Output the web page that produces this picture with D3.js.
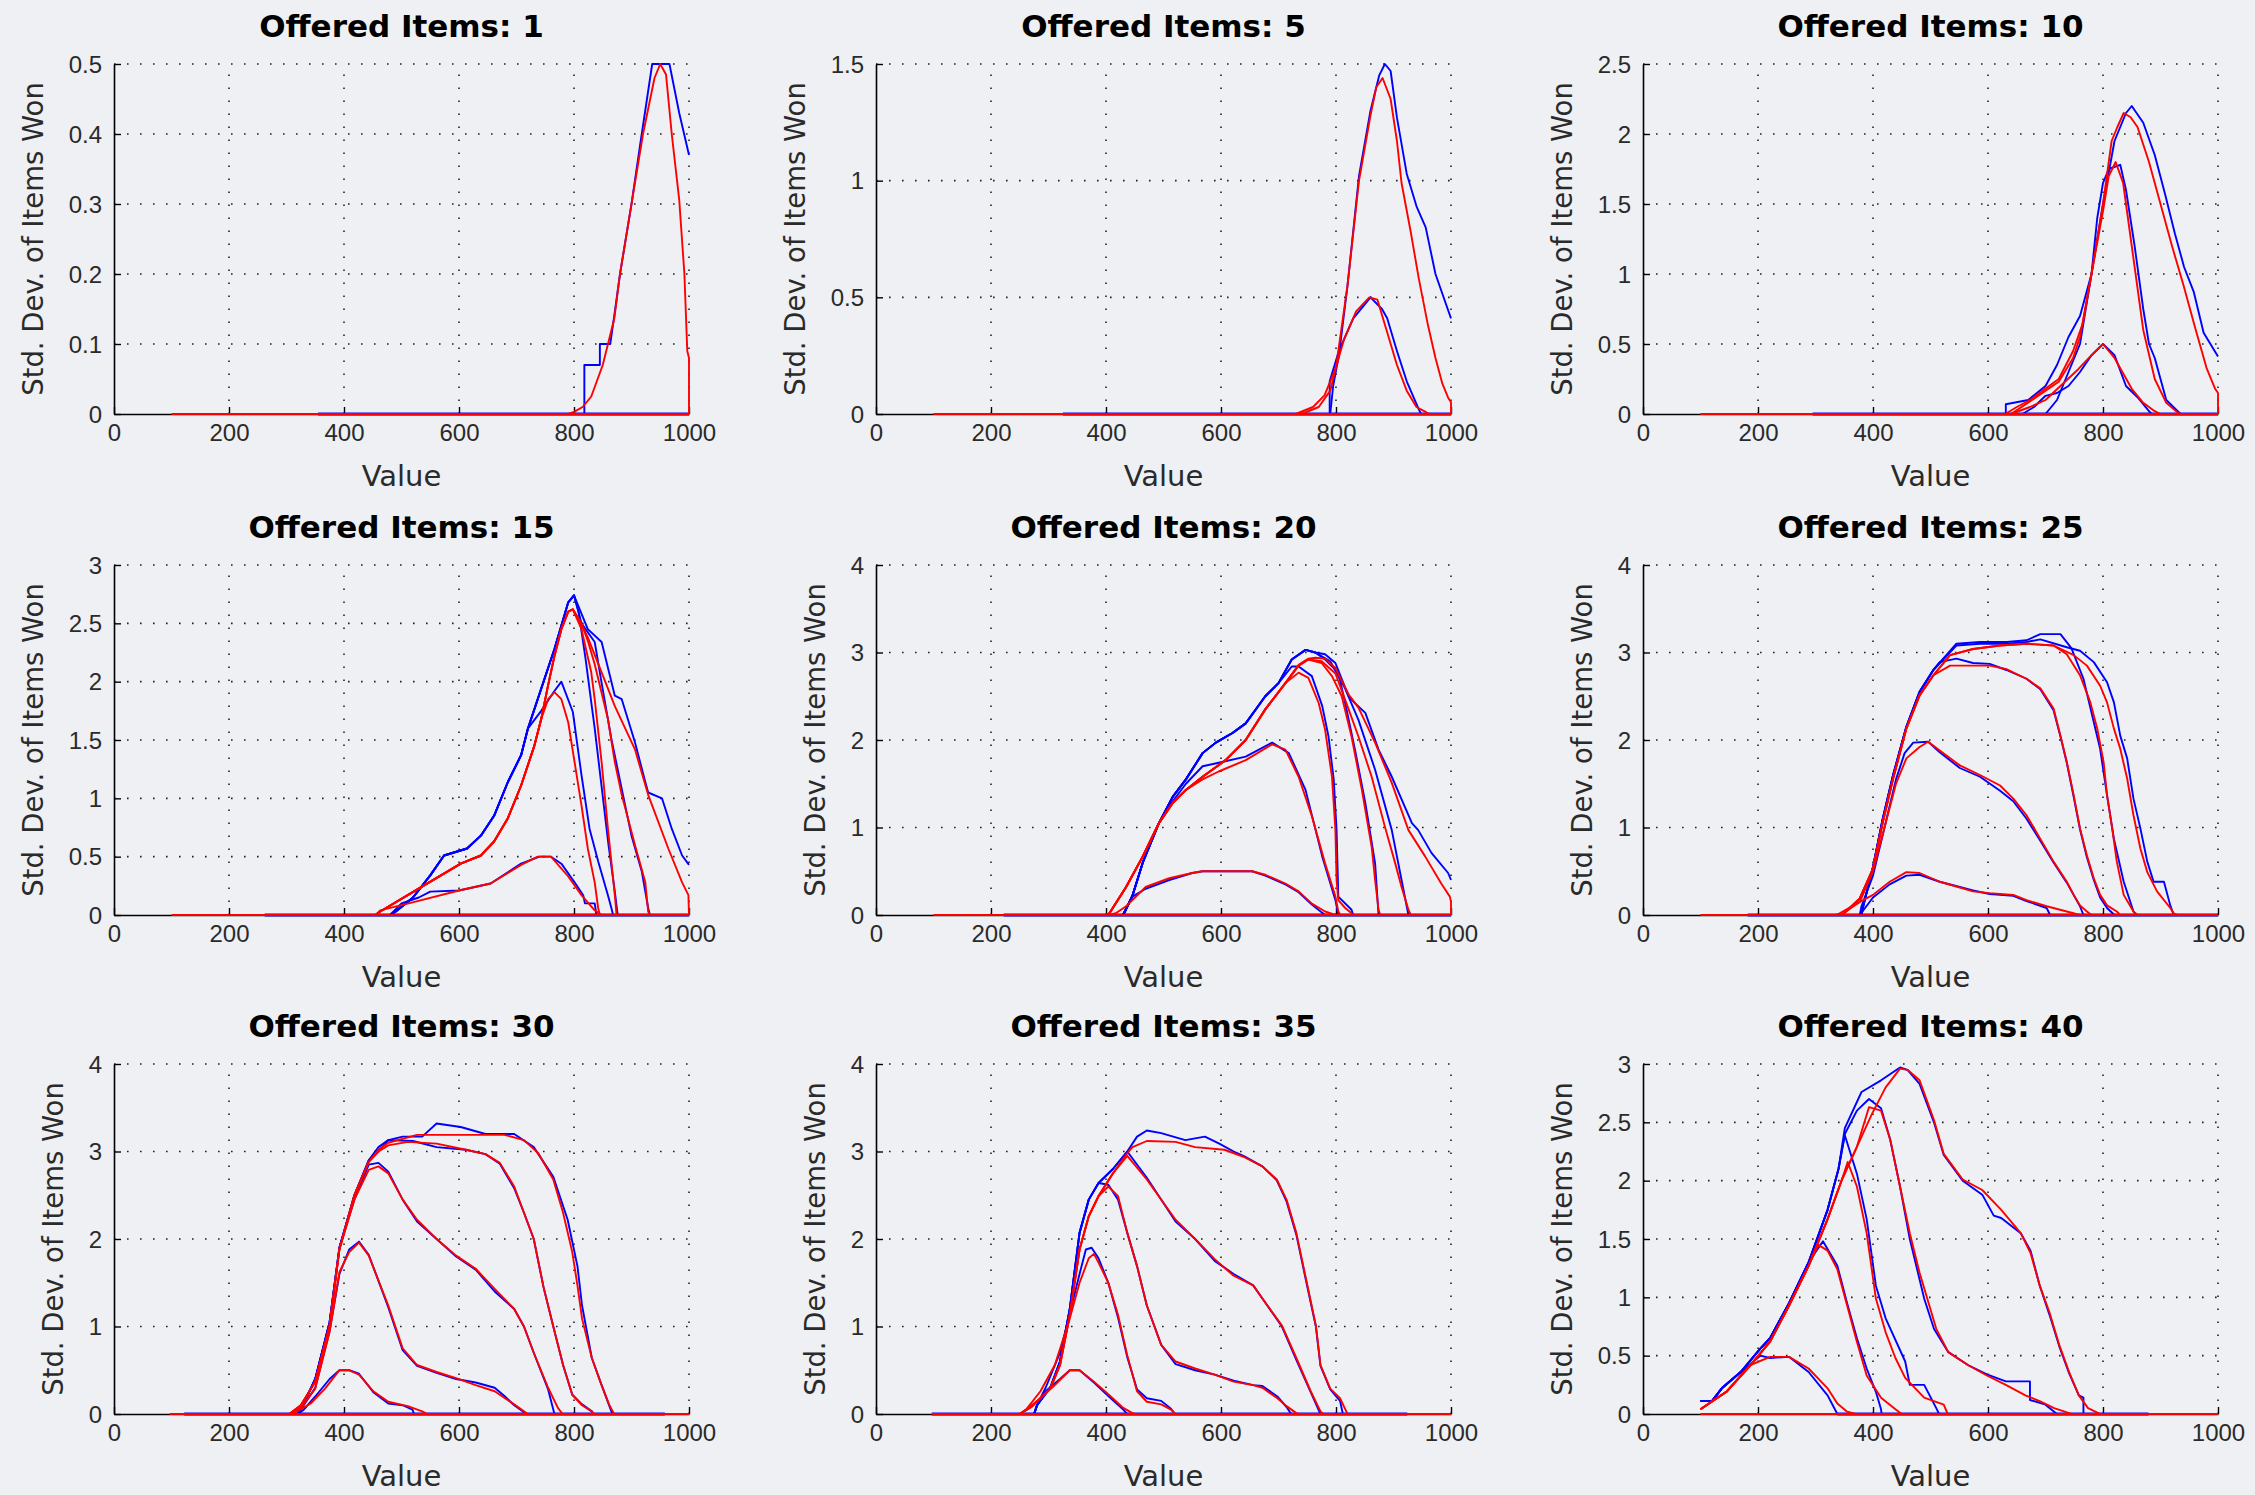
<!DOCTYPE html>
<html><head><meta charset="utf-8">
<script src="https://cdn.jsdelivr.net/npm/d3@7"></script>
<style>
html,body{margin:0;padding:0;background:#eef0f3;}
svg{display:block;}
</style></head><body>
<svg id="c" width="2255" height="1495"></svg>
<script>
// ---------------- data ----------------
const titles = ["Offered Items: 1","Offered Items: 5","Offered Items: 10","Offered Items: 15","Offered Items: 20","Offered Items: 25","Offered Items: 30","Offered Items: 35","Offered Items: 40"];
const xLabel = "Value";
const yLabel = "Std. Dev. of Items Won";
const xTicks = [0,200,400,600,800,1000];
const yMaxes = [0.5,1.5,2.5,3,4,4,4,4,3];
const yTickSets = [
  [0,0.1,0.2,0.3,0.4,0.5],
  [0,0.5,1,1.5],
  [0,0.5,1,1.5,2,2.5],
  [0,0.5,1,1.5,2,2.5,3],
  [0,1,2,3,4],
  [0,1,2,3,4],
  [0,1,2,3,4],
  [0,1,2,3,4],
  [0,0.5,1,1.5,2,2.5,3]
];
// zero-level extents of the series (red / blue)
const redRanges  = [[100,1000],[100,1000],[100,1000],[100,1000],[100,1000],[100,1000],[97,1000],[97,1000],[100,1000]];
const blueRanges = [[355,1000],[325,1000],[295,1000],[262,1000],[222,1000],[182,1000],[122,958],[97,924],[338,879]];

const red01 = [
 [[790,0],[800,0.003],[815,0.01],[830,0.025],[850,0.07],[870,0.136],[880,0.2],[900,0.3],[920,0.4],[940,0.48],[950,0.5],[960,0.485],[970,0.4],[983,0.306],[992,0.2],[997,0.09],[1000,0.08],[1000,0]]
];
const blue01 = [
 [[818,0],[818,0.07],[845,0.07],[845,0.1],[863,0.1],[870,0.14],[880,0.2],[900,0.3],[916,0.39],[936,0.5],[966,0.5],[983,0.43],[1000,0.37]]
];

const red05 = [
 [[740,0],[770,0.03],[790,0.1],[800,0.2],[814,0.32],[835,0.44],[858,0.5],[872,0.49],[889,0.35],[906,0.21],[923,0.1],[940,0.03],[955,0.01],[962,0]],
 [[730,0],[760,0.03],[780,0.08],[800,0.2],[820,0.55],[840,1.0],[860,1.28],[870,1.4],[881,1.44],[895,1.35],[906,1.17],[914,0.99],[930,0.78],[944,0.58],[960,0.38],[973,0.24],[985,0.13],[995,0.07],[1000,0.05],[1000,0]]
];
const blue05 = [
 [[789,0],[789,0.14],[805,0.27],[830,0.41],[860,0.5],[880,0.45],[889,0.41],[906,0.27],[923,0.14],[944,0.02],[948,0]],
 [[790,0],[795,0.12],[805,0.25],[820,0.55],[840,1.02],[860,1.3],[875,1.45],[885,1.5],[895,1.47],[906,1.27],[923,1.03],[940,0.89],[956,0.8],[973,0.6],[990,0.48],[1000,0.41]]
];

const red10 = [
 [[640,0],[673,0.05],[700,0.1],[757,0.32],[780,0.42],[800,0.5],[820,0.4],[850,0.18],[870,0.08],[890,0.02],[900,0]],
 [[640,0],[673,0.09],[723,0.23],[748,0.4],[760,0.55],[780,1.0],[800,1.45],[810,1.7],[822,1.8],[835,1.65],[850,1.2],[870,0.6],[890,0.25],[910,0.08],[930,0.01],[935,0]],
 [[630,0],[650,0.05],[673,0.1],[723,0.25],[748,0.45],[765,0.65],[780,1.0],[800,1.5],[815,1.95],[825,2.05],[836,2.15],[848,2.12],[860,2.05],[880,1.8],[900,1.5],[920,1.2],[940,0.92],[960,0.62],[980,0.33],[995,0.18],[1000,0.15],[1000,0]]
];
const blue10 = [
 [[660,0],[680,0.05],[700,0.13],[720,0.15],[740,0.2],[760,0.3],[780,0.42],[800,0.5],[820,0.42],[840,0.2],[860,0.12],[880,0.02],[885,0]],
 [[700,0],[720,0.1],[760,0.5],[780,1.0],[790,1.4],[800,1.65],[810,1.75],[830,1.78],[840,1.6],[855,1.2],[870,0.75],[880,0.5],[890,0.4],[910,0.1],[930,0.02],[935,0]],
 [[631,0],[631,0.07],[670,0.1],[700,0.2],[720,0.35],[740,0.55],[760,0.7],[780,1.0],[800,1.5],[820,1.95],[840,2.15],[850,2.2],[870,2.08],[890,1.85],[908,1.57],[925,1.29],[941,1.05],[958,0.87],[975,0.58],[1000,0.41]]
];

const red15 = [
 [[455,0],[463,0.04],[521,0.11],[600,0.21],[655,0.27],[708,0.43],[737,0.5],[760,0.5],[790,0.33],[813,0.17],[836,0.04],[848,0]],
 [[455,0],[463,0.03],[521,0.2],[603,0.44],[638,0.51],[661,0.63],[685,0.83],[708,1.11],[731,1.45],[743,1.68],[755,1.85],[766,1.91],[778,1.85],[790,1.65],[801,1.31],[813,0.94],[824,0.57],[836,0.28],[842,0.06],[845,0]],
 [[455,0],[463,0.03],[521,0.2],[603,0.44],[638,0.51],[661,0.63],[685,0.83],[708,1.11],[731,1.45],[743,1.68],[755,1.97],[766,2.22],[778,2.45],[790,2.6],[798,2.62],[813,2.45],[830,2.08],[836,1.85],[848,1.31],[859,0.74],[871,0.17],[874,0]],
 [[455,0],[463,0.03],[521,0.2],[603,0.44],[638,0.51],[661,0.63],[685,0.83],[708,1.11],[731,1.45],[743,1.68],[755,1.97],[766,2.22],[778,2.45],[790,2.6],[798,2.62],[813,2.5],[824,2.35],[836,2.15],[859,1.68],[871,1.31],[883,1.03],[906,0.6],[924,0.28],[929,0.03],[932,0]],
 [[455,0],[463,0.03],[521,0.2],[603,0.44],[638,0.51],[661,0.63],[685,0.83],[708,1.11],[731,1.45],[743,1.68],[755,1.97],[766,2.22],[778,2.45],[790,2.6],[798,2.62],[810,2.52],[824,2.38],[848,2.08],[871,1.79],[906,1.42],[929,1.03],[964,0.57],[988,0.28],[999,0.17],[1000,0]]
];
const blue15 = [
 [[480,0],[500,0.1],[530,0.15],[550,0.2],[600,0.21],[655,0.27],[708,0.44],[740,0.5],[760,0.5],[778,0.44],[801,0.28],[816,0.17],[819,0.1],[836,0.1],[839,0]],
 [[480,0],[490,0.03],[520,0.15],[550,0.34],[574,0.51],[614,0.57],[638,0.68],[661,0.85],[685,1.14],[708,1.37],[720,1.6],[743,1.75],[766,1.92],[778,2.0],[798,1.74],[813,1.2],[827,0.74],[842,0.46],[859,0.17],[865,0.06],[868,0]],
 [[480,0],[490,0.03],[520,0.15],[550,0.34],[574,0.51],[614,0.57],[638,0.68],[661,0.85],[685,1.14],[708,1.37],[720,1.6],[743,1.94],[766,2.28],[790,2.68],[800,2.74],[808,2.6],[820,2.2],[836,1.6],[848,1.1],[860,0.6],[871,0.2],[876,0]],
 [[480,0],[490,0.03],[520,0.15],[550,0.34],[574,0.51],[614,0.57],[638,0.68],[661,0.85],[685,1.14],[708,1.37],[720,1.6],[743,1.94],[766,2.28],[790,2.68],[800,2.74],[813,2.5],[836,2.34],[848,1.99],[865,1.51],[883,1.08],[900,0.68],[918,0.37],[929,0.06],[932,0]],
 [[480,0],[490,0.03],[520,0.15],[550,0.34],[574,0.51],[614,0.57],[638,0.68],[661,0.85],[685,1.14],[708,1.37],[720,1.6],[743,1.94],[766,2.28],[790,2.68],[800,2.74],[824,2.45],[848,2.34],[871,1.88],[883,1.85],[906,1.48],[924,1.14],[929,1.05],[953,1.0],[970,0.74],[988,0.51],[1000,0.43]]
];

const red20 = [
 [[405,0],[417,0.02],[435,0.1],[469,0.32],[510,0.42],[550,0.48],[568,0.5],[654,0.5],[677,0.46],[712,0.36],[735,0.27],[758,0.13],[781,0.04],[799,0]],
 [[400,0],[406,0.02],[435,0.32],[464,0.67],[492,1.05],[516,1.28],[539,1.43],[568,1.55],[596,1.64],[643,1.77],[689,1.95],[712,1.89],[735,1.58],[758,1.13],[781,0.59],[799,0.21],[804,0.04],[808,0]],
 [[400,0],[406,0.02],[435,0.32],[464,0.67],[492,1.05],[516,1.28],[539,1.43],[568,1.58],[608,1.77],[643,2.0],[677,2.35],[712,2.65],[735,2.77],[752,2.71],[770,2.42],[781,2.12],[793,1.58],[799,0.97],[801,0.4],[804,0.17],[816,0.08],[827,0.02],[830,0]],
 [[400,0],[406,0.02],[435,0.32],[464,0.67],[492,1.05],[516,1.28],[539,1.43],[568,1.58],[608,1.77],[643,2.0],[677,2.35],[712,2.65],[735,2.85],[752,2.92],[775,2.88],[793,2.73],[810,2.5],[827,2.04],[845,1.43],[862,0.78],[868,0.4],[874,0.06],[877,0]],
 [[400,0],[406,0.02],[435,0.32],[464,0.67],[492,1.05],[516,1.28],[539,1.43],[568,1.58],[608,1.77],[643,2.0],[677,2.35],[712,2.65],[735,2.85],[752,2.92],[775,2.9],[799,2.76],[822,2.35],[839,2.04],[862,1.58],[885,1.01],[903,0.59],[914,0.32],[926,0.06],[930,0]],
 [[400,0],[406,0.02],[435,0.32],[464,0.67],[492,1.05],[516,1.28],[539,1.43],[568,1.58],[608,1.77],[643,2.0],[677,2.35],[712,2.65],[735,2.86],[752,2.93],[764,2.94],[781,2.93],[799,2.82],[822,2.52],[839,2.37],[868,1.97],[897,1.51],[926,0.97],[955,0.67],[983,0.36],[998,0.21],[1000,0.15],[1000,0]]
];
const blue20 = [
 [[429,0],[446,0.21],[469,0.3],[510,0.4],[550,0.48],[568,0.5],[654,0.5],[677,0.45],[712,0.35],[735,0.26],[758,0.12],[775,0.03],[781,0]],
 [[430,0],[446,0.22],[464,0.6],[492,1.05],[516,1.3],[539,1.5],[568,1.7],[596,1.74],[643,1.81],[689,1.97],[718,1.85],[747,1.43],[776,0.67],[799,0.17],[804,0]],
 [[430,0],[446,0.22],[464,0.6],[492,1.05],[516,1.35],[539,1.55],[568,1.85],[591,1.97],[620,2.08],[643,2.19],[677,2.5],[700,2.65],[723,2.84],[735,2.84],[758,2.73],[776,2.39],[787,2.04],[796,1.55],[801,0.97],[804,0.21],[827,0.06],[830,0]],
 [[430,0],[446,0.22],[464,0.6],[492,1.05],[516,1.35],[539,1.55],[568,1.85],[591,1.97],[620,2.08],[643,2.19],[677,2.5],[700,2.65],[723,2.92],[747,3.03],[764,3.0],[781,2.92],[804,2.77],[816,2.42],[833,1.89],[851,1.28],[868,0.59],[874,0]],
 [[430,0],[446,0.22],[464,0.6],[492,1.05],[516,1.35],[539,1.55],[568,1.85],[591,1.97],[620,2.08],[643,2.19],[677,2.5],[700,2.65],[723,2.92],[747,3.03],[764,3.0],[790,2.9],[815,2.6],[839,2.23],[868,1.66],[897,0.97],[914,0.4],[926,0]],
 [[430,0],[446,0.22],[464,0.6],[492,1.05],[516,1.35],[539,1.55],[568,1.85],[591,1.97],[620,2.08],[643,2.19],[677,2.5],[700,2.65],[723,2.92],[747,3.03],[764,3.0],[781,2.98],[799,2.88],[822,2.5],[833,2.42],[851,2.31],[874,1.89],[897,1.58],[932,1.05],[943,0.97],[966,0.71],[995,0.48],[1000,0.4]]
];

const red25 = [
 [[335,0],[342,0.02],[377,0.15],[400,0.23],[429,0.38],[458,0.49],[481,0.48],[516,0.38],[574,0.27],[603,0.25],[644,0.23],[667,0.17],[702,0.1],[737,0.04],[760,0]],
 [[345,0],[353,0.04],[377,0.15],[400,0.5],[420,1.0],[440,1.5],[458,1.79],[481,1.92],[496,1.98],[516,1.88],[551,1.71],[586,1.6],[621,1.48],[644,1.33],[667,1.14],[691,0.87],[714,0.61],[737,0.38],[749,0.23],[760,0.11],[772,0.04],[780,0]],
 [[345,0],[353,0.04],[377,0.19],[400,0.53],[417,1.06],[435,1.56],[458,2.13],[481,2.51],[505,2.74],[534,2.85],[603,2.85],[632,2.81],[667,2.7],[691,2.59],[714,2.36],[726,2.05],[737,1.75],[749,1.37],[760,0.99],[772,0.68],[784,0.42],[795,0.23],[807,0.11],[824,0.04],[830,0]],
 [[345,0],[353,0.04],[377,0.19],[400,0.53],[417,1.06],[435,1.56],[458,2.13],[481,2.51],[505,2.74],[534,2.97],[574,3.04],[621,3.08],[667,3.1],[714,3.08],[737,2.98],[760,2.74],[778,2.43],[790,2.13],[801,1.75],[807,1.37],[816,0.99],[824,0.61],[836,0.23],[853,0.04],[860,0]],
 [[345,0],[353,0.04],[377,0.19],[400,0.53],[417,1.06],[435,1.56],[458,2.13],[481,2.51],[505,2.74],[534,2.97],[574,3.04],[621,3.08],[667,3.1],[714,3.08],[749,2.97],[772,2.85],[795,2.62],[807,2.43],[819,2.13],[830,1.9],[842,1.56],[853,1.14],[865,0.76],[877,0.49],[894,0.27],[917,0.08],[923,0.02],[930,0]]
];
const blue25 = [
 [[377,0],[400,0.2],[429,0.35],[458,0.45],[481,0.46],[516,0.38],[574,0.28],[603,0.24],[644,0.22],[667,0.16],[702,0.08],[708,0]],
 [[377,0],[380,0.1],[400,0.45],[420,1.0],[440,1.55],[455,1.85],[470,1.97],[496,1.98],[516,1.86],[551,1.68],[586,1.58],[621,1.42],[644,1.3],[667,1.1],[691,0.85],[714,0.6],[737,0.37],[760,0.1],[766,0]],
 [[380,0],[383,0.1],[400,0.55],[417,1.1],[435,1.6],[458,2.15],[481,2.55],[505,2.8],[516,2.89],[545,2.93],[574,2.88],[603,2.87],[632,2.8],[667,2.7],[691,2.58],[714,2.34],[726,2.04],[737,1.74],[749,1.35],[760,0.98],[772,0.66],[784,0.4],[795,0.2],[807,0.08],[820,0]],
 [[380,0],[383,0.1],[400,0.55],[417,1.1],[435,1.6],[458,2.15],[481,2.55],[505,2.8],[545,3.1],[586,3.12],[633,3.12],[667,3.14],[691,3.21],[726,3.21],[745,3.05],[766,2.7],[795,1.9],[807,1.37],[819,0.87],[836,0.38],[853,0.04],[858,0]],
 [[380,0],[383,0.1],[400,0.55],[417,1.1],[435,1.6],[458,2.15],[481,2.55],[505,2.8],[545,3.08],[586,3.1],[633,3.1],[667,3.12],[691,3.15],[737,3.06],[760,3.02],[784,2.89],[807,2.66],[819,2.43],[830,2.05],[842,1.79],[853,1.33],[865,0.99],[877,0.61],[888,0.38],[906,0.38],[917,0.11],[923,0]]
];

const red30 = [
 [[305,0],[316,0.02],[342,0.12],[367,0.29],[392,0.5],[409,0.5],[426,0.45],[451,0.26],[477,0.14],[511,0.09],[536,0.03],[545,0]],
 [[305,0],[325,0.07],[350,0.29],[375,0.94],[392,1.62],[409,1.85],[426,1.96],[443,1.81],[477,1.24],[502,0.75],[527,0.56],[561,0.48],[595,0.41],[629,0.33],[662,0.26],[696,0.11],[713,0.03],[720,0]],
 [[305,0],[325,0.1],[350,0.37],[375,1.01],[392,1.88],[418,2.45],[443,2.79],[460,2.83],[477,2.75],[502,2.45],[527,2.22],[561,2.0],[595,1.81],[629,1.66],[662,1.43],[696,1.2],[713,1.0],[730,0.7],[755,0.3],[772,0.07],[780,0]],
 [[305,0],[325,0.1],[350,0.37],[375,1.01],[392,1.88],[418,2.5],[443,2.88],[460,3.0],[477,3.07],[511,3.11],[561,3.09],[612,3.02],[646,2.97],[671,2.87],[696,2.6],[713,2.3],[730,2.0],[747,1.45],[764,1.0],[781,0.56],[797,0.22],[814,0.1],[831,0.03],[835,0]],
 [[305,0],[325,0.1],[350,0.37],[375,1.01],[392,1.88],[418,2.5],[443,2.88],[460,3.02],[477,3.1],[527,3.19],[679,3.19],[713,3.13],[738,2.98],[764,2.68],[781,2.3],[797,1.85],[806,1.47],[814,1.09],[831,0.64],[848,0.33],[861,0.11],[869,0.01],[872,0]]
];
const blue30 = [
 [[320,0],[330,0.05],[350,0.2],[375,0.4],[392,0.5],[409,0.5],[426,0.46],[451,0.25],[477,0.12],[502,0.1],[519,0.05],[522,0]],
 [[320,0],[330,0.1],[350,0.3],[375,0.95],[392,1.6],[409,1.88],[426,1.97],[443,1.82],[477,1.22],[502,0.73],[527,0.55],[561,0.47],[595,0.4],[629,0.36],[662,0.3],[680,0.2],[696,0.1],[713,0.02],[716,0]],
 [[320,0],[330,0.12],[350,0.4],[375,1.05],[392,1.9],[418,2.45],[443,2.85],[460,2.87],[477,2.77],[502,2.45],[527,2.2],[561,2.0],[595,1.8],[629,1.65],[662,1.4],[696,1.2],[713,1.0],[730,0.7],[755,0.28],[764,0.05],[766,0]],
 [[320,0],[330,0.12],[350,0.4],[375,1.05],[392,1.9],[418,2.5],[443,2.9],[460,3.05],[477,3.13],[520,3.12],[561,3.05],[612,3.02],[646,2.97],[671,2.86],[696,2.58],[713,2.3],[730,2.0],[747,1.45],[764,1.0],[781,0.56],[797,0.22],[814,0.11],[831,0.03],[834,0]],
 [[320,0],[330,0.12],[350,0.4],[375,1.05],[392,1.9],[418,2.5],[443,2.9],[460,3.0],[477,3.13],[502,3.17],[536,3.17],[561,3.32],[603,3.28],[646,3.2],[696,3.2],[730,3.05],[764,2.71],[789,2.22],[806,1.69],[814,1.24],[831,0.64],[848,0.33],[865,0.03],[868,0]]
];

const red35 = [
 [[250,0],[261,0.05],[286,0.18],[311,0.33],[337,0.5],[354,0.5],[379,0.37],[405,0.22],[430,0.07],[446,0.01],[450,0]],
 [[250,0],[261,0.05],[286,0.26],[311,0.56],[337,1.09],[354,1.5],[370,1.78],[379,1.83],[387,1.73],[404,1.5],[421,1.13],[437,0.67],[454,0.26],[471,0.14],[496,0.11],[513,0.05],[521,0]],
 [[250,0],[270,0.08],[303,0.29],[320,0.56],[337,1.13],[354,1.88],[370,2.26],[387,2.49],[404,2.6],[421,2.49],[437,2.07],[454,1.69],[471,1.24],[496,0.79],[521,0.6],[555,0.52],[589,0.45],[622,0.37],[656,0.33],[672,0.3],[698,0.18],[714,0.09],[731,0.01],[735,0]],
 [[250,0],[270,0.08],[303,0.29],[320,0.56],[337,1.13],[354,1.88],[370,2.26],[387,2.49],[412,2.75],[437,2.95],[471,2.68],[521,2.22],[555,2.0],[589,1.77],[622,1.58],[656,1.47],[672,1.32],[706,1.01],[731,0.64],[756,0.26],[773,0.03],[778,0]],
 [[250,0],[270,0.08],[303,0.29],[320,0.56],[337,1.13],[354,1.88],[370,2.26],[387,2.49],[412,2.75],[437,2.98],[446,3.05],[471,3.12],[521,3.11],[555,3.05],[606,3.02],[639,2.94],[672,2.83],[697,2.68],[714,2.45],[731,2.07],[748,1.54],[765,1.01],[773,0.56],[790,0.29],[807,0.18],[815,0.07],[820,0]]
];
const blue35 = [
 [[275,0],[280,0.1],[295,0.26],[320,0.4],[337,0.5],[354,0.5],[379,0.36],[405,0.2],[430,0.05],[437,0]],
 [[275,0],[280,0.1],[295,0.3],[320,0.7],[337,1.15],[354,1.6],[365,1.88],[375,1.9],[387,1.78],[404,1.5],[421,1.1],[437,0.65],[454,0.28],[471,0.18],[496,0.15],[513,0.06],[520,0]],
 [[275,0],[280,0.1],[303,0.3],[320,0.6],[337,1.2],[354,2.07],[370,2.45],[387,2.64],[404,2.62],[421,2.45],[437,2.07],[454,1.69],[471,1.24],[496,0.79],[521,0.57],[555,0.5],[589,0.45],[622,0.38],[656,0.33],[672,0.32],[698,0.2],[714,0.08],[722,0]],
 [[275,0],[280,0.1],[303,0.3],[320,0.6],[337,1.2],[354,2.07],[370,2.45],[387,2.64],[412,2.8],[437,3.0],[471,2.7],[521,2.2],[555,2.0],[589,1.75],[622,1.6],[656,1.47],[672,1.32],[706,1.0],[731,0.62],[756,0.25],[773,0]],
 [[275,0],[280,0.1],[303,0.3],[320,0.6],[337,1.2],[354,2.07],[370,2.45],[387,2.64],[412,2.8],[437,3.0],[454,3.17],[471,3.24],[496,3.21],[538,3.13],[572,3.17],[597,3.09],[622,3.0],[639,2.95],[672,2.83],[697,2.67],[714,2.43],[731,2.05],[748,1.52],[765,1.0],[773,0.55],[790,0.28],[807,0.15],[812,0]]
];

const red40 = [
 [[100,0.04],[145,0.19],[187,0.42],[221,0.49],[254,0.49],[288,0.39],[321,0.22],[338,0.09],[355,0.02],[370,0]],
 [[100,0.04],[145,0.19],[187,0.42],[221,0.62],[254,0.93],[288,1.27],[305,1.45],[321,1.4],[338,1.24],[355,0.93],[372,0.62],[389,0.33],[414,0.14],[439,0.04],[450,0]],
 [[100,0.04],[145,0.19],[187,0.42],[221,0.62],[254,0.93],[288,1.27],[321,1.67],[346,2.01],[356,2.16],[372,1.95],[389,1.55],[405,0.99],[422,0.7],[439,0.48],[456,0.31],[489,0.14],[523,0.08],[530,0]],
 [[100,0.04],[145,0.19],[187,0.42],[221,0.62],[254,0.93],[288,1.27],[321,1.67],[346,2.01],[372,2.29],[393,2.63],[414,2.6],[430,2.35],[447,1.95],[464,1.55],[481,1.21],[498,0.93],[510,0.73],[531,0.53],[565,0.42],[598,0.33],[631,0.25],[665,0.16],[690,0.11],[715,0.05],[740,0.01],[745,0]],
 [[100,0.04],[145,0.19],[187,0.42],[221,0.62],[254,0.93],[288,1.27],[321,1.67],[346,2.01],[372,2.29],[398,2.57],[422,2.8],[447,2.96],[460,2.95],[481,2.86],[506,2.52],[523,2.23],[556,2.01],[590,1.92],[623,1.75],[657,1.55],[674,1.38],[690,1.1],[707,0.87],[724,0.59],[741,0.36],[758,0.16],[774,0.05],[791,0.01],[795,0]]
];
const blue40 = [
 [[100,0.11],[120,0.11],[137,0.22],[170,0.36],[204,0.5],[221,0.48],[254,0.49],[288,0.36],[321,0.16],[338,0]],
 [[100,0.11],[120,0.11],[137,0.22],[170,0.36],[204,0.56],[221,0.65],[254,0.95],[288,1.3],[313,1.48],[338,1.27],[355,0.95],[372,0.65],[389,0.39],[405,0.19],[414,0.04],[415,0]],
 [[100,0.11],[120,0.11],[137,0.22],[170,0.36],[204,0.56],[221,0.65],[254,0.95],[288,1.3],[321,1.75],[340,2.1],[351,2.39],[372,2.06],[389,1.67],[405,1.1],[422,0.82],[456,0.45],[464,0.25],[489,0.25],[510,0.05],[515,0]],
 [[100,0.11],[120,0.11],[137,0.22],[170,0.36],[204,0.56],[221,0.65],[254,0.95],[288,1.3],[321,1.75],[340,2.1],[351,2.4],[372,2.6],[393,2.7],[414,2.62],[430,2.35],[447,1.95],[464,1.5],[489,0.99],[506,0.73],[531,0.53],[565,0.42],[598,0.34],[631,0.28],[673,0.28],[673,0.12],[700,0.08],[715,0.02],[720,0]],
 [[100,0.11],[120,0.11],[137,0.22],[170,0.36],[204,0.56],[221,0.65],[254,0.95],[288,1.3],[321,1.75],[340,2.1],[351,2.45],[380,2.76],[414,2.86],[447,2.97],[460,2.95],[481,2.83],[506,2.5],[523,2.22],[556,2.0],[590,1.88],[610,1.7],[623,1.68],[657,1.55],[674,1.4],[690,1.1],[707,0.85],[724,0.58],[741,0.35],[758,0.16],[766,0.14],[766,0]]
];

const redSeries  = [red01, red05, red10, red15, red20, red25, red30, red35, red40];
const blueSeries = [blue01, blue05, blue10, blue15, blue20, blue25, blue30, blue35, blue40];

// ---------------- layout ----------------
const colLeft = [114, 876, 1643];
const rowTop = [64, 565, 1064];
const W = 575, H = 350;
const svg = d3.select('#c');
const tickFont = '"Liberation Sans", Arial, sans-serif';
const labFont = '"DejaVu Sans", sans-serif';

titles.forEach((title, i) => {
  const L = colLeft[i % 3], T = rowTop[Math.floor(i / 3)];
  const g = svg.append('g').attr('transform', `translate(${L},${T})`);
  const x = d3.scaleLinear().domain([0, 1000]).range([0, W]);
  const y = d3.scaleLinear().domain([0, yMaxes[i]]).range([H, 0]);
  const yTicks = yTickSets[i];

  // grid
  const grid = g.append('g').attr('stroke', '#222').attr('stroke-width', 1.6).attr('stroke-dasharray', '1.6,11.4');
  xTicks.filter(v => v > 0).forEach(v => grid.append('line').attr('x1', x(v)).attr('x2', x(v)).attr('y1', H).attr('y2', 0));
  yTicks.filter(v => v > 0).forEach(v => grid.append('line').attr('x1', 0).attr('x2', W).attr('y1', y(v)).attr('y2', y(v)));

  // axes
  const fmt = d => String(+d.toFixed(2));
  const xa = g.append('g').attr('transform', `translate(0,${H})`)
    .call(d3.axisBottom(x).tickValues(xTicks).tickSize(-7).tickSizeOuter(0).tickPadding(10).tickFormat(fmt));
  const ya = g.append('g')
    .call(d3.axisLeft(y).tickValues(yTicks).tickSize(-7).tickSizeOuter(0).tickPadding(12).tickFormat(fmt));
  [xa, ya].forEach(a => {
    a.select('.domain').attr('stroke', '#000').attr('stroke-width', 1.6);
    a.selectAll('.tick line').attr('stroke', '#000').attr('stroke-width', 1.4);
    a.selectAll('.tick text').attr('fill', '#2a2a2a').style('font-family', tickFont).style('font-size', '24px');
  });
  ya.selectAll('.tick text').attr('dy', '0.34em');

  // series
  const line = d3.line().x(d => x(d[0])).y(d => y(d[1]));
  const plot = g.append('g').attr('fill', 'none').attr('stroke-width', 1.9).attr('stroke-linejoin', 'round');
  const br = blueRanges[i], rr = redRanges[i];
  plot.append('path').attr('d', line([[br[0], 0], [br[1], 0]])).attr('stroke', '#0000ff').attr('stroke-width', 3);
  blueSeries[i].forEach(s => plot.append('path').attr('d', line(s)).attr('stroke', '#0000ff'));
  plot.append('path').attr('d', line([[rr[0], 0], [rr[1], 0]])).attr('stroke', '#ff0000');
  redSeries[i].forEach(s => plot.append('path').attr('d', line(s)).attr('stroke', '#ff0000'));

  // labels
  g.append('text').attr('x', W / 2).attr('y', -27).attr('text-anchor', 'middle')
    .style('font-family', labFont).style('font-weight', 'bold').style('font-size', '31px').attr('fill', '#000').text(title);
  g.append('text').attr('x', W / 2).attr('y', H + 72).attr('text-anchor', 'middle')
    .style('font-family', labFont).style('font-size', '29px').attr('fill', '#2a2a2a').text(xLabel);
  let maxW = 0;
  ya.selectAll('.tick text').each(function () { maxW = Math.max(maxW, this.getComputedTextLength()); });
  g.append('text').attr('transform', `translate(${-(maxW + 12 + 36)},${H / 2}) rotate(-90)`)
    .attr('text-anchor', 'middle').attr('dominant-baseline', 'central')
    .style('font-family', labFont).style('font-size', '27.5px').attr('fill', '#2a2a2a').text(yLabel);
});
</script>
</body></html>
